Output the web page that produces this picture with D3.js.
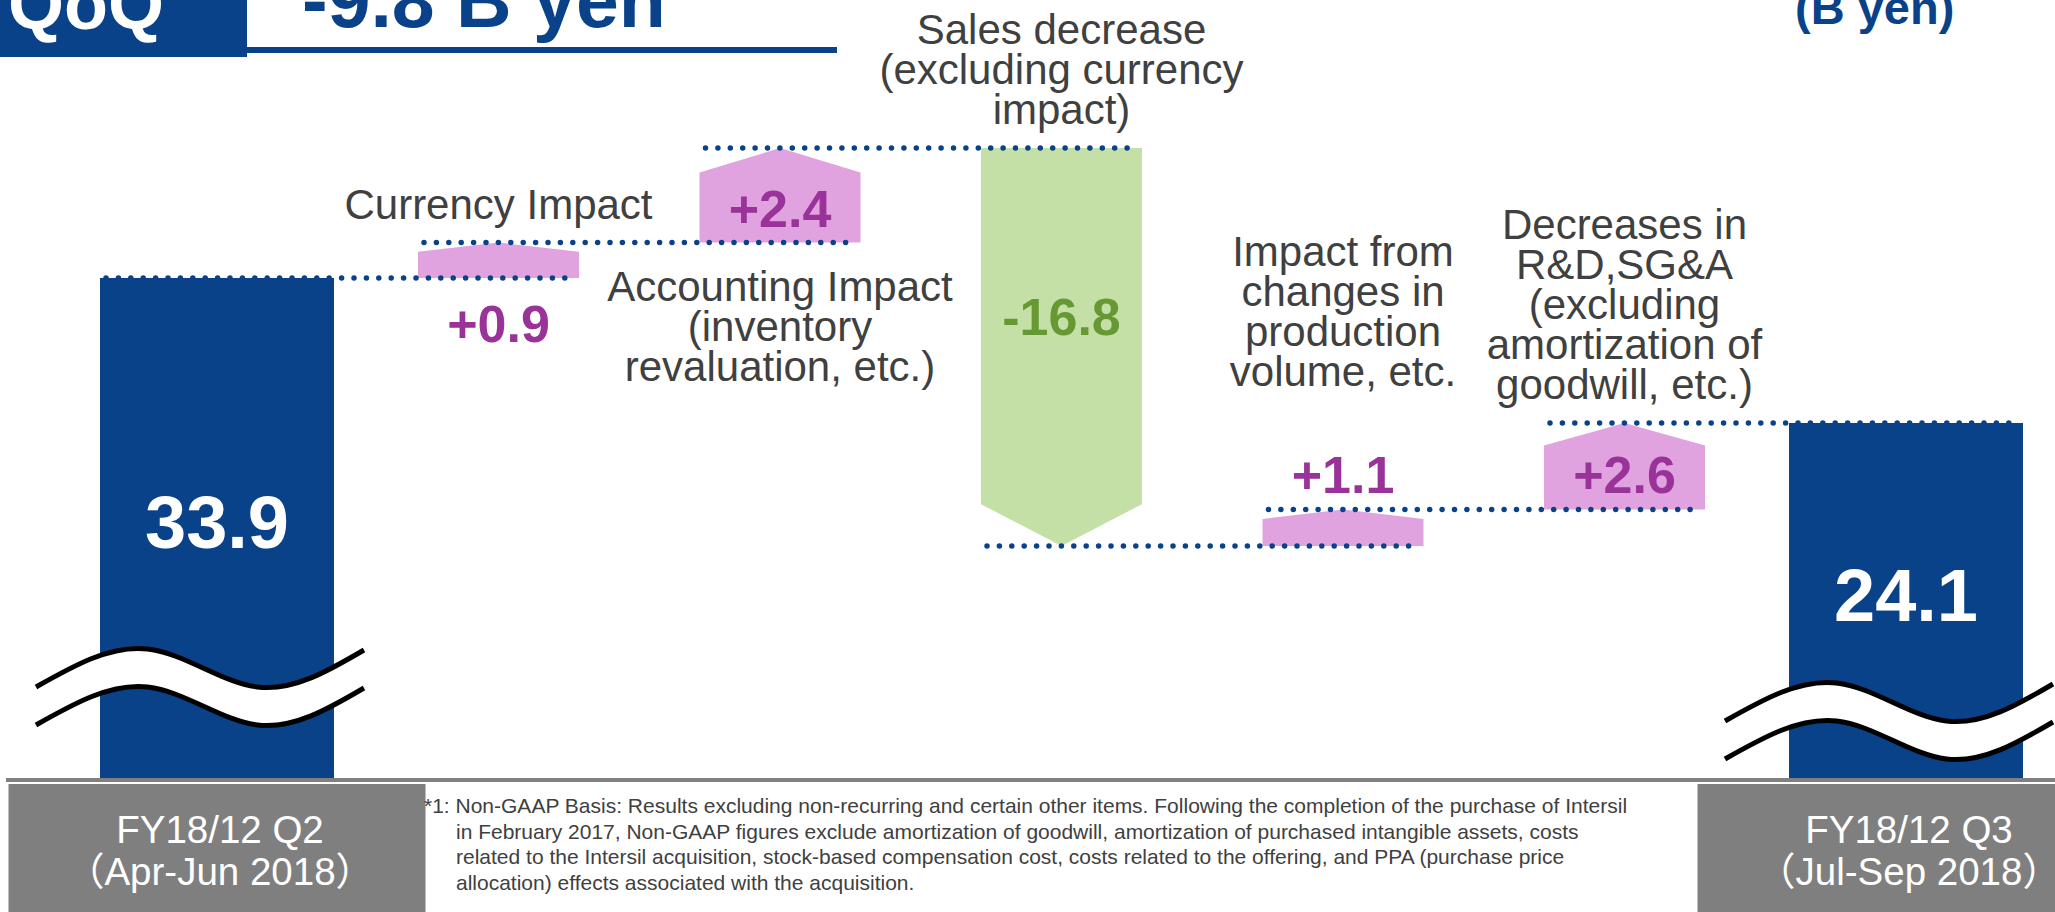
<!DOCTYPE html>
<html>
<head>
<meta charset="utf-8">
<script src="https://cdn.jsdelivr.net/npm/d3@7"></script>
<style>
  html, body { margin: 0; padding: 0; background: #fff; }
  svg { display: block; font-family: "Liberation Sans", Arial, "Noto Sans CJK JP", sans-serif; }
</style>
</head>
<body>
<div id="chart"></div>
<script>
// ---- data (B yen, Non-GAAP operating income bridge) ----
const periods = ['FY18/12 Q2', 'FY18/12 Q3'];
const periodRanges = ['（Apr-Jun 2018）', '（Jul-Sep 2018）'];
const totals = [33.9, 24.1];

const stepLabels = [
  ['Currency Impact'],
  ['Accounting Impact', '(inventory', 'revaluation, etc.)'],
  ['Sales decrease', '(excluding currency', 'impact)'],
  ['Impact from', 'changes in', 'production', 'volume, etc.'],
  ['Decreases in', 'R&D,SG&A', '(excluding', 'amortization of', 'goodwill, etc.)']
];
const stepValues = [0.9, 2.4, -16.8, 1.1, 2.6];

const footnote = [
  '*1: Non-GAAP Basis: Results excluding non-recurring and certain other items. Following the completion of the purchase of Intersil',
  'in February 2017, Non-GAAP figures exclude amortization of goodwill, amortization of purchased intangible assets, costs',
  'related to the Intersil acquisition, stock-based compensation cost, costs related to the offering, and PPA (purchase price',
  'allocation) effects associated with the acquisition.'
];

// ---- layout / style ----
const width = 2055, height = 912;
const floorY = 778;              // where the (broken) bars stop
const blue = '#0A428A', pink = '#E0A3DF', green = '#C4E0A6';
const purpleText = '#993399', greenText = '#669933', grayText = '#404040';
const labelSide = ['above', 'below', 'above', 'above', 'above'];   // category label
const valueSide = ['below', 'inside', 'inside', 'above', 'inside']; // value label
const waveOffset = [110, 76];    // break mark distance above floor

const fmt = d3.formatLocale({ decimal: '.', thousands: ',', grouping: [3], currency: ['', ''], minus: '-' });
const fmtSigned = fmt.format('+.1f');
const fmtPlain = fmt.format('.1f');

// running levels after each mark
const levels = [totals[0]];
stepValues.forEach(v => levels.push(+(levels[levels.length - 1] + v).toFixed(1)));

const svg = d3.select('#chart').append('svg')
  .attr('width', width)
  .attr('height', height);

// x: one slot per mark (start total, steps, end total)
const keys = ['start'].concat(stepValues.map((d, i) => 's' + i), ['end']);
const x = d3.scalePoint().domain(keys).range([217, 1906]);
const totalW = 234, stepW = 161;

// y: schematic bridge axis (broken, not to scale), piecewise linear
const yKnots = [d3.min(levels), totals[1], totals[0], d3.max(levels)];
const y = d3.scaleLinear().domain(yKnots).range([546, 423, 278, 148]);

// ---- title ----
svg.append('rect').attr('x', 0).attr('y', 0).attr('width', 247).attr('height', 57).attr('fill', blue);
svg.append('text').attr('x', 8).attr('y', 29)
  .attr('font-size', 72).attr('font-weight', 'bold').attr('fill', '#fff').text('QoQ');
svg.append('text').attr('x', 302).attr('y', 27)
  .attr('font-size', 77).attr('font-weight', 'bold').attr('fill', blue)
  .text(`${fmtPlain(totals[1] - totals[0])} B yen`);
svg.append('rect').attr('x', 247).attr('y', 47).attr('width', 590).attr('height', 6).attr('fill', blue);
svg.append('text').attr('x', 1795).attr('y', 24)
  .attr('font-size', 47).attr('font-weight', 'bold').attr('fill', blue).text('(B yen)');

// ---- connector dotted lines ----
const markHalf = i => (i === 0 || i === keys.length - 1) ? totalW / 2 : stepW / 2;
const connectors = levels.map((v, i) => ({
  x1: x(keys[i]) - markHalf(i) + 6,
  x2: x(keys[i + 1]) + markHalf(i + 1) - 8,
  y: y(v)
}));

// ---- total bars ----
const totalData = totals.map((v, i) => ({ v, key: i === 0 ? 'start' : 'end', i }));
svg.selectAll('.total-bar')
  .data(totalData)
  .enter()
  .append('rect')
  .attr('class', 'total-bar')
  .attr('x', d => x(d.key) - totalW / 2)
  .attr('y', d => y(d.v))
  .attr('width', totalW)
  .attr('height', d => floorY - y(d.v))
  .attr('fill', blue);

svg.selectAll('.total-label')
  .data(totalData)
  .enter()
  .append('text')
  .attr('class', 'total-label')
  .attr('x', d => x(d.key))
  .attr('y', d => (y(d.v) + floorY) / 2 + 20)
  .attr('text-anchor', 'middle')
  .attr('font-size', 74)
  .attr('font-weight', 'bold')
  .attr('fill', '#fff')
  .text(d => fmtPlain(d.v));

// break marks (wavy lines across the bars)
const wave = d3.line().curve(d3.curveNatural);
const waveFrac = [[0, 19], [0.34, -19], [0.675, 19], [1, -18]];
totalData.forEach(d => {
  const x0 = x(d.key) - totalW / 2 - 64, x1 = x(d.key) + totalW / 2 + 30;
  const cy = floorY - waveOffset[d.i];
  const upper = waveFrac.map(p => [x0 + p[0] * (x1 - x0), cy + p[1]]);
  const lower = upper.map(p => [p[0], p[1] + 38]);
  svg.append('path')
    .attr('d', wave(upper) + 'L' + wave(lower.slice().reverse()).slice(1) + 'Z')
    .attr('fill', '#fff');
  [upper, lower].forEach(pts => {
    svg.append('path').attr('d', wave(pts))
      .attr('fill', 'none').attr('stroke', '#000').attr('stroke-width', 5);
  });
});

// ---- step arrows ----
const stepData = stepValues.map((v, i) => {
  const from = levels[i], to = levels[i + 1];
  const top = Math.min(y(from), y(to)), bottom = Math.max(y(from), y(to));
  return { v, i, key: keys[i + 1], cx: x(keys[i + 1]), top, bottom };
});

function arrowPath(d) {
  const l = d.cx - stepW / 2, r = d.cx + stepW / 2;
  const tip = 0.26 * Math.min(stepW, d.bottom - d.top);
  const p = d3.path();
  if (d.v >= 0) {
    p.moveTo(l, d.bottom); p.lineTo(l, d.top + tip); p.lineTo(d.cx, d.top);
    p.lineTo(r, d.top + tip); p.lineTo(r, d.bottom);
  } else {
    p.moveTo(l, d.top); p.lineTo(r, d.top); p.lineTo(r, d.bottom - tip);
    p.lineTo(d.cx, d.bottom); p.lineTo(l, d.bottom - tip);
  }
  p.closePath();
  return p.toString();
}

svg.selectAll('.step')
  .data(stepData)
  .enter()
  .append('path')
  .attr('class', 'step')
  .attr('d', arrowPath)
  .attr('fill', d => d.v >= 0 ? pink : green);

// dotted lines drawn over marks
svg.selectAll('.connector')
  .data(connectors)
  .enter()
  .append('line')
  .attr('class', 'connector')
  .attr('x1', d => d.x1)
  .attr('x2', d => d.x2)
  .attr('y1', d => d.y)
  .attr('y2', d => d.y)
  .attr('stroke', blue)
  .attr('stroke-width', 5.5)
  .attr('stroke-linecap', 'round')
  .attr('stroke-dasharray', '0 12.4');

// value labels
function valueY(d) {
  const side = valueSide[d.i];
  if (side === 'below') return d.bottom + 64;
  if (side === 'above') return d.top - 16;
  return d.v >= 0 ? d.bottom - 16 : d.top + 0.47 * (d.bottom - d.top);
}
svg.selectAll('.step-value')
  .data(stepData)
  .enter()
  .append('text')
  .attr('class', 'step-value')
  .attr('x', d => d.cx)
  .attr('y', valueY)
  .attr('text-anchor', 'middle')
  .attr('font-size', 52)
  .attr('font-weight', 'bold')
  .attr('fill', d => d.v >= 0 ? purpleText : greenText)
  .text(d => fmtSigned(d.v));

// category labels
const lineH = 40;
stepData.forEach(d => {
  const lines = stepLabels[d.i];
  let firstY;
  if (labelSide[d.i] === 'below') {
    firstY = d.bottom + 58;
  } else {
    const lastY = d.top - 24 - (valueSide[d.i] === 'above' ? 99 : 0);
    firstY = lastY - (lines.length - 1) * lineH;
  }
  svg.append('text')
    .attr('class', 'step-label')
    .attr('text-anchor', 'middle')
    .attr('font-size', 42)
    .attr('fill', grayText)
    .selectAll('tspan')
    .data(lines)
    .enter()
    .append('tspan')
    .attr('x', d.cx)
    .attr('y', (t, j) => firstY + j * lineH)
    .text(t => t);
});

// ---- bottom band ----
svg.append('rect').attr('x', 6).attr('y', floorY).attr('width', width - 6).attr('height', 4).attr('fill', '#808080');

const boxW = 417;
svg.selectAll('.period-box')
  .data(totalData)
  .enter()
  .append('rect')
  .attr('class', 'period-box')
  .attr('x', d => x(d.key) - boxW / 2)
  .attr('y', floorY + 6)
  .attr('width', boxW)
  .attr('height', height - floorY - 6)
  .attr('fill', '#7F7F7F');

totalData.forEach(d => {
  svg.append('text')
    .attr('text-anchor', 'middle')
    .attr('font-size', 38.5)
    .attr('fill', '#fff')
    .selectAll('tspan')
    .data([periods[d.i], periodRanges[d.i]])
    .enter()
    .append('tspan')
    .attr('x', x(d.key) + 3)
    .attr('y', (t, j) => 843 + j * 42)
    .text(t => t);
});

// footnote
svg.append('text')
  .attr('font-size', 21)
  .attr('fill', grayText)
  .selectAll('tspan')
  .data(footnote)
  .enter()
  .append('tspan')
  .attr('x', (t, j) => j === 0 ? 424 : 456)
  .attr('y', (t, j) => 813 + j * 25.5)
  .text(t => t);
</script>
</body>
</html>
